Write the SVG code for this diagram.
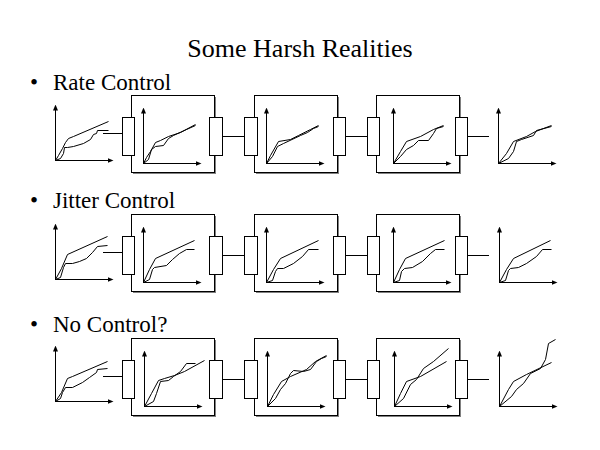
<svg xmlns="http://www.w3.org/2000/svg" xmlns:xlink="http://www.w3.org/1999/xlink" width="600" height="450" viewBox="0 0 600 450">
<style>
.t{font-family:"Liberation Serif","Times New Roman",serif;fill:#000}
.ax{stroke:#000;stroke-width:1;fill:none;marker-end:url(#ah);shape-rendering:crispEdges}
.c{stroke:#000;stroke-width:1;fill:none;stroke-linejoin:round}
.box{fill:#fff;stroke:#000;stroke-width:1;shape-rendering:crispEdges}
.sh{fill:#808080;shape-rendering:crispEdges}
.port{fill:#fff;stroke:#000;stroke-width:1;shape-rendering:crispEdges}
.ln{stroke:#000;stroke-width:1;fill:none;shape-rendering:crispEdges}
</style>
<defs>
<marker id="ah" viewBox="0 0 6 6" refX="1" refY="3" markerWidth="6" markerHeight="6" markerUnits="userSpaceOnUse" orient="auto">
<path d="M0,0.5 L6,3 L0,5.5 z" fill="#000"/>
</marker>
<g id="axes">
<path class="ax" d="M0,0 V-51"/>
<path class="ax" d="M0,0 H53"/>
</g>
</defs>
<rect width="600" height="450" fill="#fff"/>
<text class="t" x="300" y="57" font-size="26" text-anchor="middle">Some Harsh Realities</text>
<text class="t" x="30" y="90" font-size="23">•</text>
<text class="t" x="53" y="90" font-size="23">Rate Control</text>
<text class="t" x="30" y="208" font-size="23">•</text>
<text class="t" x="53" y="208" font-size="23">Jitter Control</text>
<text class="t" x="30" y="332" font-size="23">•</text>
<text class="t" x="53" y="332" font-size="23">No Control?</text>

<g id="connectors">
<path class="ln" d="M103,133.5 H122 M222,136.5 H244 M345,136.5 H367 M467,136.5 H489"/>
<path class="ln" d="M103,252.5 H122 M222,255.5 H244 M345,255.5 H367 M467,255.5 H489"/>
<path class="ln" d="M103,376.5 H122 M222,379.5 H244 M345,379.5 H367 M467,379.5 H489"/>
</g>

<!-- Row 1 -->
<g id="r1-src" transform="translate(55.5,160.5)">
<use xlink:href="#axes"/>
<polyline class="c" points="0,0 3,-5 7,-12 10,-18 13,-22 18,-24 53,-39"/>
<polyline class="c" points="0,0 5,-2 8,-7 9,-13 12,-13 18,-14 28,-17 35,-21 38,-26 41,-27 42,-30 53,-30"/>
</g>
<g id="r1-box1">
<rect class="sh" x="133" y="97" width="83" height="77"/>
<rect class="box" x="131.5" y="95.5" width="83" height="77"/>
<g transform="translate(143.5,163.5)">
<use xlink:href="#axes"/>
<polyline class="c" points="0,0 3,-6 7,-12 12,-21 17,-23 25,-27 37,-31 52,-39"/>
<polyline class="c" points="0,0 5,-4 8,-14 12,-17 20,-18 25,-25 30,-28 43,-34 52,-38"/>
</g>
<rect class="port" x="122.5" y="117.5" width="12" height="38"/>
<rect class="port" x="209.5" y="117.5" width="13" height="38"/>
</g>
<g id="r1-box2">
<rect class="sh" x="256" y="97" width="83" height="77"/>
<rect class="box" x="254.5" y="95.5" width="83" height="77"/>
<g transform="translate(266.5,163.5)">
<use xlink:href="#axes"/>
<polyline class="c" points="0,0 4,-8 12,-22 24,-24 32,-28 44,-34 52,-38"/>
<polyline class="c" points="0,0 6,-7 11,-17 17,-20 34,-28 41,-31 47,-35 52,-37"/>
</g>
<rect class="port" x="244.5" y="117.5" width="13" height="38"/>
<rect class="port" x="333.5" y="117.5" width="12" height="38"/>
</g>
<g id="r1-box3">
<rect class="sh" x="378" y="97" width="83" height="77"/>
<rect class="box" x="376.5" y="95.5" width="83" height="77"/>
<g transform="translate(393.5,163.5)">
<use xlink:href="#axes"/>
<polyline class="c" points="0,0 7,-12 13,-22 27,-27 40,-34 50,-38"/>
<polyline class="c" points="0,0 7,-7 13,-14 20,-18 25,-23 35,-23 40,-30 43,-35 50,-37"/>
</g>
<rect class="port" x="367.5" y="117.5" width="12" height="38"/>
<rect class="port" x="455.5" y="117.5" width="12" height="38"/>
</g>
<g id="r1-out" transform="translate(498.5,163.5)">
<use xlink:href="#axes"/>
<polyline class="c" points="0,0 8,-10 15,-22 28,-27 37,-32 45,-35 53,-38"/>
<polyline class="c" points="0,0 10,-5 15,-12 18,-22 23,-24 35,-28 38,-33 53,-37"/>
</g>

<!-- Row 2 -->
<g id="r2-src" transform="translate(55.5,279.5)">
<use xlink:href="#axes"/>
<polyline class="c" points="0,0 6,-11 12,-25 52,-43"/>
<polyline class="c" points="0,0 5,-2 8,-12 10,-16 17,-16 24,-18 31,-21 37,-27 42,-33 52,-34"/>
</g>
<g id="r2-box1">
<rect class="sh" x="133" y="216" width="83" height="77"/>
<rect class="box" x="131.5" y="214.5" width="83" height="77"/>
<g transform="translate(143.5,282.5)">
<use xlink:href="#axes"/>
<polyline class="c" points="0,0 6,-13 12,-24 51,-42"/>
<polyline class="c" points="0,0 6,-3 9,-13 11,-15 23,-17 29,-23 36,-29 43,-33 51,-33"/>
</g>
<rect class="port" x="122.5" y="236.5" width="12" height="38"/>
<rect class="port" x="209.5" y="236.5" width="13" height="38"/>
</g>
<g id="r2-box2">
<rect class="sh" x="256" y="216" width="83" height="77"/>
<rect class="box" x="254.5" y="214.5" width="83" height="77"/>
<g transform="translate(266.5,282.5)">
<use xlink:href="#axes"/>
<polyline class="c" points="0,0 7,-13 14,-24 52,-42"/>
<polyline class="c" points="0,0 6,-2 9,-11 11,-14 17,-14 27,-19 36,-26 42,-33 52,-33"/>
</g>
<rect class="port" x="244.5" y="236.5" width="13" height="38"/>
<rect class="port" x="333.5" y="236.5" width="12" height="38"/>
</g>
<g id="r2-box3">
<rect class="sh" x="378" y="216" width="83" height="77"/>
<rect class="box" x="376.5" y="214.5" width="83" height="77"/>
<g transform="translate(393.5,282.5)">
<use xlink:href="#axes"/>
<polyline class="c" points="0,0 6,-13 12,-24 51,-42"/>
<polyline class="c" points="0,0 6,-2 8,-11 11,-14 19,-15 29,-21 37,-29 42,-33 51,-33"/>
</g>
<rect class="port" x="367.5" y="236.5" width="12" height="38"/>
<rect class="port" x="455.5" y="236.5" width="12" height="38"/>
</g>
<g id="r2-out" transform="translate(499.5,282.5)">
<use xlink:href="#axes"/>
<polyline class="c" points="0,0 7,-13 14,-24 51,-42"/>
<polyline class="c" points="0,0 6,-2 9,-12 11,-14 19,-15 27,-19 37,-26 43,-33 52,-33"/>
</g>

<!-- Row 3 -->
<g id="r3-src" transform="translate(55.5,401.5)">
<use xlink:href="#axes"/>
<polyline class="c" points="0,0 6,-9 12,-23 17,-25 52,-40"/>
<polyline class="c" points="0,0 5,-3 7,-9 10,-14 17,-14 27,-19 34,-24 41,-29 42,-32 52,-33"/>
</g>
<g id="r3-box1">
<rect class="sh" x="133" y="340" width="83" height="77"/>
<rect class="box" x="131.5" y="338.5" width="83" height="77"/>
<g transform="translate(144.5,406.5)">
<use xlink:href="#axes"/>
<polyline class="c" points="0,0 7,-13 14,-26 20,-28 30,-31 40,-35 60,-46"/>
<polyline class="c" points="0,0 9,-5 12,-13 16,-25 24,-26 29,-30 36,-35 42,-43 51,-43"/>
</g>
<rect class="port" x="122.5" y="360.5" width="12" height="38"/>
<rect class="port" x="209.5" y="360.5" width="13" height="38"/>
</g>
<g id="r3-box2">
<rect class="sh" x="256" y="340" width="83" height="77"/>
<rect class="box" x="254.5" y="338.5" width="83" height="77"/>
<g transform="translate(267.5,406.5)">
<use xlink:href="#axes"/>
<polyline class="c" points="0,0 6,-12 14,-25 23,-30 39,-37 48,-45 59,-51"/>
<polyline class="c" points="0,0 8,-8 13,-17 18,-23 23,-33 26,-36 36,-35 43,-37 49,-45 54,-48 59,-50"/>
</g>
<rect class="port" x="244.5" y="360.5" width="13" height="38"/>
<rect class="port" x="333.5" y="360.5" width="12" height="38"/>
</g>
<g id="r3-box3">
<rect class="sh" x="378" y="340" width="83" height="77"/>
<rect class="box" x="376.5" y="338.5" width="83" height="77"/>
<g transform="translate(394.5,406.5)">
<use xlink:href="#axes"/>
<polyline class="c" points="0,0 6,-13 12,-25 26,-30 52,-45"/>
<polyline class="c" points="0,0 9,-8 16,-22 22,-27 29,-38 39,-45 54,-58"/>
</g>
<rect class="port" x="367.5" y="360.5" width="12" height="38"/>
<rect class="port" x="455.5" y="360.5" width="12" height="38"/>
</g>
<g id="r3-out" transform="translate(499.5,406.5)">
<use xlink:href="#axes"/>
<polyline class="c" points="0,0 9,-17 14,-25 27,-32 52,-44"/>
<polyline class="c" points="0,0 12,-10 17,-17 24,-23 31,-33 41,-38 46,-47 49,-63 56,-67"/>
</g>
</svg>
